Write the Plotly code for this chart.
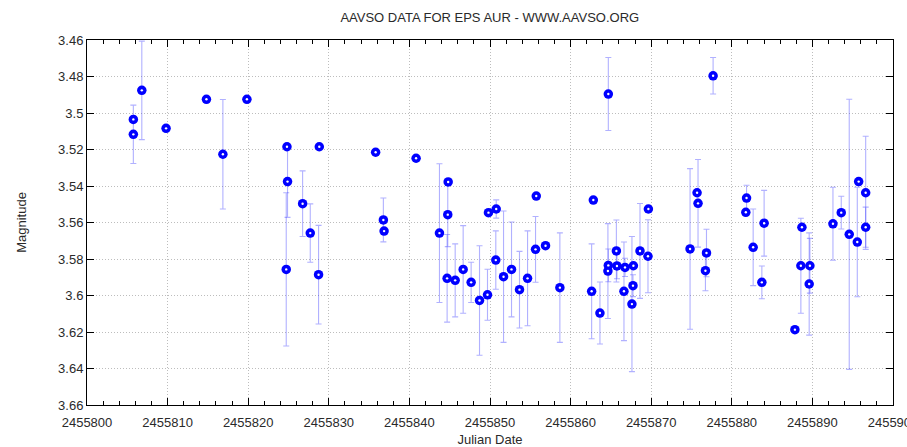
import plotly.graph_objects as go

# Visual-band photometry of epsilon Aurigae (Julian Date, magnitude, uncertainty)
jd = [
    2455805.75, 2455805.75, 2455806.80, 2455809.81, 2455814.82, 2455816.86, 2455819.84,
    2455824.81, 2455824.88, 2455824.72, 2455826.75, 2455827.70, 2455828.82, 2455828.73,
    2455835.81, 2455836.77, 2455836.86, 2455840.83, 2455843.73, 2455844.81, 2455844.76,
    2455844.68, 2455845.68, 2455846.67, 2455847.66, 2455848.70, 2455849.69, 2455849.81,
    2455850.77, 2455850.72, 2455851.68, 2455852.67, 2455853.66, 2455854.66, 2455855.65,
    2455855.74, 2455856.89, 2455858.67, 2455862.82, 2455862.61, 2455863.64, 2455864.63,
    2455864.68, 2455864.68, 2455865.68, 2455865.75, 2455866.62, 2455866.75, 2455867.61,
    2455867.74, 2455867.79, 2455868.61, 2455869.65, 2455869.60, 2455874.82, 2455875.69,
    2455875.81, 2455876.86, 2455876.73, 2455877.68, 2455881.83, 2455881.74, 2455882.65,
    2455884.01, 2455883.73, 2455887.83, 2455888.70, 2455888.57, 2455889.69, 2455889.60,
    2455892.55, 2455893.58, 2455894.57, 2455895.57, 2455895.74, 2455896.61, 2455896.61,
]
magnitude = [
    3.5035, 3.5117, 3.4876, 3.5084, 3.4925, 3.5226, 3.4925,
    3.5185, 3.5376, 3.5857, 3.5497, 3.5658, 3.5185, 3.5886,
    3.5215, 3.5586, 3.5647, 3.5248, 3.5658, 3.5378, 3.5557,
    3.5906, 3.5917, 3.5857, 3.5928, 3.6027, 3.5996, 3.5546,
    3.5526, 3.5806, 3.5897, 3.5857, 3.5968, 3.5906, 3.5747,
    3.5455, 3.5727, 3.5957, 3.5477, 3.5977, 3.6096, 3.5866,
    3.5835, 3.4896, 3.5756, 3.5838, 3.5977, 3.5846, 3.6047,
    3.5946, 3.5837, 3.5756, 3.5526, 3.5785, 3.5745, 3.5437,
    3.5495, 3.5767, 3.5864, 3.4796, 3.5466, 3.5544, 3.5736,
    3.5604, 3.5928, 3.6187, 3.5626, 3.5837, 3.5837, 3.5937,
    3.5607, 3.5546, 3.5665, 3.5707, 3.5376, 3.5437, 3.5626,
]
uncertainty = [
    0.0, 0.016, 0.027, 0.0, 0.0, 0.030, 0.0,
    0.0, 0.0196, 0.042, 0.018, 0.016, 0.0, 0.027,
    0.0, 0.012, 0.0, 0.0, 0.038, 0.0, 0.0175,
    0.024, 0.020, 0.024, 0.011, 0.030, 0.014, 0.0,
    0.005, 0.016, 0.036, 0.026, 0.021, 0.026, 0.018,
    0.0, 0.0, 0.030, 0.0, 0.026, 0.017, 0.026,
    0.009, 0.020, 0.017, 0.007, 0.027, 0.005, 0.037,
    0.006, 0.0, 0.026, 0.0, 0.020, 0.044, 0.0,
    0.024, 0.013, 0.011, 0.010, 0.007, 0.0, 0.021,
    0.018, 0.009, 0.0, 0.0, 0.026, 0.015, 0.028,
    0.020, 0.009, 0.074, 0.030, 0.0, 0.031, 0.011,
]

x_ticks = list(range(2455800, 2455901, 10))
y_ticks = [3.46, 3.48, 3.50, 3.52, 3.54, 3.56, 3.58, 3.60, 3.62, 3.64, 3.66]
y_labels = ["3.46", "3.48", "3.5", "3.52", "3.54", "3.56", "3.58", "3.6", "3.62", "3.64", "3.66"]

FONT = "Liberation Sans, Arial, sans-serif"
TEXT = "#2a2a2a"

fig = go.Figure()

# observations with their uncertainty bars
fig.add_trace(go.Scatter(
    x=jd, y=magnitude, mode="markers",
    marker=dict(symbol="circle", size=9.5, color="#0000ff", line=dict(width=0)),
    error_y=dict(type="data", array=uncertainty, visible=True,
                 color="rgba(40,40,255,0.36)", thickness=1.1, width=3),
    hoverinfo="x+y", showlegend=False,
))
# small highlight on each marker
fig.add_trace(go.Scatter(
    x=jd, y=magnitude, mode="markers",
    marker=dict(symbol="circle", size=2.4, color="white", line=dict(width=0)),
    hoverinfo="skip", showlegend=False,
))

axis_common = dict(
    showline=True, linecolor="black", linewidth=1, mirror="allticks",
    ticks="inside", ticklen=7, tickcolor="black", tickwidth=1,
    showgrid=True, gridcolor="#bdbdbd", griddash="1px,2px", gridwidth=1,
    zeroline=False, automargin=False, ticklabeloverflow="allow",
    tickfont=dict(family=FONT, size=13, color=TEXT),
    title_font=dict(family=FONT, size=13, color=TEXT),
)

fig.update_layout(
    width=907, height=447,
    margin=dict(l=87, r=14, t=40, b=42),
    paper_bgcolor="white", plot_bgcolor="white",
    title=dict(text="AAVSO DATA FOR EPS AUR - WWW.AAVSO.ORG",
               x=0.54, xanchor="center", y=0.962, yanchor="middle",
               font=dict(family=FONT, size=13, color=TEXT)),
    xaxis=dict(
        range=[2455800, 2455900], tickvals=x_ticks, tickformat="d",
        ticklabelstandoff=5,
        title=dict(text="Julian Date", standoff=6),
        minor=dict(dtick=2, ticks="inside", ticklen=4, tickcolor="black", showgrid=False),
        **axis_common,
    ),
    yaxis=dict(
        range=[3.66, 3.46], tickvals=y_ticks, ticktext=y_labels,
        title=dict(text="Magnitude", standoff=28),
        **axis_common,
    ),
)

fig.write_html("out.html")
